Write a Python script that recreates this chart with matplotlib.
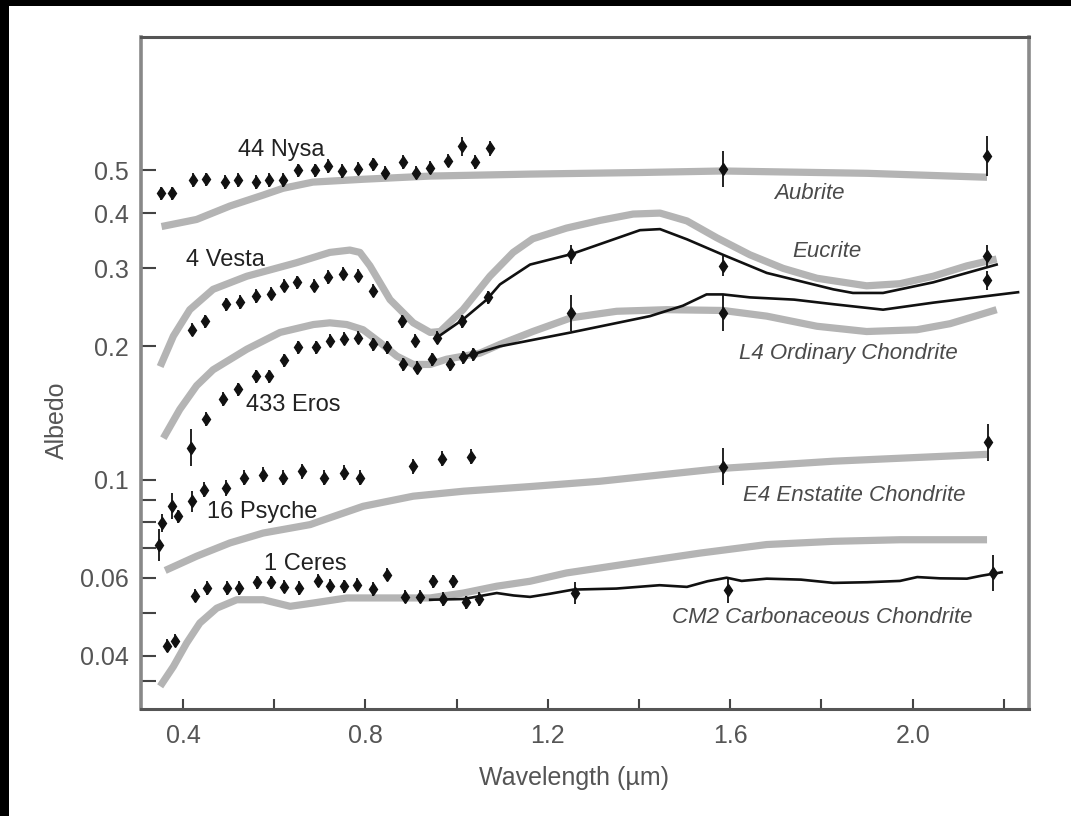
import numpy as np
import matplotlib
matplotlib.use('Agg')
import matplotlib.pyplot as plt
from matplotlib.ticker import FixedLocator, FixedFormatter, NullFormatter
from matplotlib.patches import Rectangle

plt.rcParams['font.family'] = ['Liberation Sans', 'DejaVu Sans']

# ---------------- asteroid data points (wavelength um, albedo, rel. error) ----------------
nysa_x = [0.351, 0.377, 0.423, 0.450, 0.492, 0.521, 0.560, 0.589, 0.620, 0.653, 0.689, 0.719,
          0.748, 0.783, 0.816, 0.843, 0.882, 0.911, 0.942, 0.982, 1.011, 1.040, 1.073, 1.584, 2.163]
nysa_y = [0.443, 0.443, 0.475, 0.477, 0.470, 0.475, 0.470, 0.475, 0.475, 0.500, 0.500, 0.511,
          0.498, 0.504, 0.516, 0.494, 0.522, 0.494, 0.507, 0.525, 0.566, 0.522, 0.560, 0.503, 0.538]
nysa_e = [0.035] * 20 + [0.05, 0.035, 0.04, 0.10, 0.11]

vesta_x = [0.419, 0.448, 0.494, 0.525, 0.560, 0.594, 0.621, 0.649, 0.688, 0.717, 0.750, 0.783,
           0.816, 0.880, 0.909, 0.956, 1.011, 1.068, 1.251, 1.584, 2.163, 2.163]
vesta_y = [0.218, 0.228, 0.249, 0.252, 0.260, 0.263, 0.274, 0.279, 0.274, 0.287, 0.292, 0.289,
           0.267, 0.228, 0.206, 0.209, 0.228, 0.258, 0.323, 0.304, 0.320, 0.282]
vesta_e = [0.035] * 18 + [0.05, 0.055, 0.06, 0.05]

eros_x = [0.418, 0.450, 0.488, 0.521, 0.560, 0.589, 0.621, 0.653, 0.692, 0.722, 0.754, 0.784,
          0.816, 0.847, 0.882, 0.914, 0.945, 0.986, 1.015, 1.037, 1.251, 1.584]
eros_y = [0.118, 0.137, 0.152, 0.160, 0.171, 0.171, 0.186, 0.199, 0.199, 0.206, 0.208, 0.209,
          0.202, 0.199, 0.182, 0.179, 0.187, 0.182, 0.189, 0.192, 0.238, 0.238]
eros_e = [0.10] + [0.035] * 19 + [0.10, 0.10]

psyche_x = [0.348, 0.355, 0.375, 0.390, 0.419, 0.446, 0.494, 0.534, 0.576, 0.620, 0.662, 0.710,
            0.753, 0.788, 0.904, 0.967, 1.031, 1.584, 2.166]
psyche_y = [0.0713, 0.0798, 0.0870, 0.0826, 0.0893, 0.0949, 0.0957, 0.1009, 0.1026, 0.1009,
            0.1044, 0.1009, 0.1035, 0.1009, 0.1072, 0.1114, 0.1125, 0.107, 0.1214]
psyche_e = [0.087, 0.05, 0.07, 0.035, 0.055] + [0.04] * 12 + [0.10, 0.10]

ceres_x = [0.364, 0.382, 0.426, 0.453, 0.496, 0.523, 0.562, 0.594, 0.621, 0.655, 0.697, 0.722,
           0.752, 0.781, 0.817, 0.847, 0.887, 0.920, 0.949, 0.971, 0.991, 1.021, 1.048,
           1.260, 1.594, 2.177]
ceres_y = [0.0421, 0.0432, 0.0546, 0.0569, 0.0569, 0.0569, 0.0586, 0.0586, 0.0572, 0.0569,
           0.0591, 0.0576, 0.0574, 0.0578, 0.0566, 0.0610, 0.0543, 0.0543, 0.0589, 0.0537,
           0.0589, 0.0528, 0.0537, 0.0554, 0.0564, 0.0615]
ceres_e = [0.035] * 23 + [0.06, 0.07, 0.10]

# ---------------- meteorite laboratory spectra (grey curves) ----------------
aubrite_x = [0.353, 0.430, 0.503, 0.575, 0.619, 0.685, 0.795, 0.942, 1.161, 1.40, 1.584, 1.90, 2.163]
aubrite_y = [0.373, 0.387, 0.415, 0.439, 0.455, 0.470, 0.477, 0.485, 0.490, 0.494, 0.498, 0.492, 0.482]

eucrite_x = [0.350, 0.379, 0.415, 0.466, 0.540, 0.649, 0.722, 0.766, 0.788, 0.810, 0.854, 0.905,
             0.942, 0.964, 1.014, 1.073, 1.124, 1.167, 1.241, 1.314, 1.387, 1.446, 1.505, 1.570,
             1.643, 1.716, 1.790, 1.899, 1.972, 2.045, 2.119, 2.184]
eucrite_y = [0.180, 0.211, 0.242, 0.269, 0.288, 0.309, 0.326, 0.330, 0.326, 0.304, 0.255, 0.226,
             0.215, 0.216, 0.242, 0.288, 0.326, 0.350, 0.370, 0.385, 0.398, 0.400, 0.384, 0.352,
             0.322, 0.300, 0.285, 0.274, 0.277, 0.288, 0.304, 0.315]

l4_x = [0.357, 0.393, 0.430, 0.466, 0.540, 0.613, 0.686, 0.722, 0.759, 0.795, 0.832, 0.869, 0.905,
        0.942, 0.978, 1.051, 1.095, 1.167, 1.251, 1.351, 1.461, 1.584, 1.680, 1.790, 1.899, 2.009,
        2.082, 2.184]
l4_y = [0.124, 0.144, 0.163, 0.177, 0.197, 0.215, 0.224, 0.226, 0.224, 0.218, 0.204, 0.190, 0.182,
        0.182, 0.187, 0.193, 0.202, 0.216, 0.232, 0.240, 0.242, 0.241, 0.234, 0.222, 0.216, 0.218,
        0.225, 0.242]

e4_x = [0.361, 0.430, 0.503, 0.576, 0.679, 0.700, 0.795, 0.905, 1.015, 1.161, 1.314, 1.584, 1.826, 2.163]
e4_y = [0.0623, 0.0671, 0.0719, 0.0757, 0.0791, 0.0805, 0.0870, 0.0917, 0.0941, 0.0964, 0.0991,
        0.106, 0.110, 0.114]

cm2_x = [0.350, 0.379, 0.408, 0.437, 0.474, 0.518, 0.576, 0.635, 0.686, 0.759, 0.869, 0.942,
         1.015, 1.088, 1.161, 1.241, 1.388, 1.534, 1.680, 1.826, 1.972, 2.163]
cm2_y = [0.0341, 0.0378, 0.0427, 0.0474, 0.0512, 0.0535, 0.0535, 0.0517, 0.0526, 0.0540, 0.0540,
         0.0540, 0.0554, 0.0574, 0.0589, 0.0615, 0.0648, 0.0682, 0.0713, 0.0725, 0.0731, 0.0731]

# ---------------- measured asteroid spectra (black lines) ----------------
vesta_line_x = [0.956, 1.014, 1.066, 1.095, 1.161, 1.251, 1.402, 1.446, 1.505, 1.584, 1.680,
                1.826, 1.869, 1.935, 2.045, 2.184]
vesta_line_y = [0.209, 0.230, 0.255, 0.276, 0.306, 0.323, 0.366, 0.368, 0.349, 0.322, 0.293,
                0.269, 0.264, 0.264, 0.279, 0.306]

eros_line_x = [1.014, 1.095, 1.251, 1.424, 1.496, 1.548, 1.584, 1.643, 1.740, 1.826, 1.935,
               2.045, 2.192, 2.231]
eros_line_y = [0.189, 0.200, 0.215, 0.234, 0.247, 0.262, 0.262, 0.258, 0.255, 0.249, 0.242,
               0.251, 0.262, 0.265]

ceres_line_x = [0.942, 1.015, 1.088, 1.125, 1.161, 1.205, 1.256, 1.350, 1.445, 1.505, 1.550,
                1.592, 1.625, 1.680, 1.755, 1.826, 1.900, 1.972, 2.010, 2.060, 2.119, 2.150, 2.195]
ceres_line_y = [0.0535, 0.0537, 0.0554, 0.0547, 0.0543, 0.0552, 0.0564, 0.0567, 0.0577, 0.0572,
                0.0589, 0.0600, 0.0590, 0.0597, 0.0594, 0.0584, 0.0586, 0.0590, 0.0602, 0.0598,
                0.0597, 0.0606, 0.0617]

# ---------------- labels ----------------
ast_labels = ['44 Nysa', '4 Vesta', '433 Eros', '16 Psyche', '1 Ceres']
ast_label_x = [0.615, 0.494, 0.641, 0.573, 0.668]
ast_label_y = [0.538, 0.303, 0.1425, 0.0820, 0.0626]

met_labels = ['Aubrite', 'Eucrite', 'L4 Ordinary Chondrite', 'E4 Enstatite Chondrite',
              'CM2 Carbonaceous Chondrite']
met_label_x = [1.773, 1.812, 1.858, 1.872, 1.801]
met_label_y = [0.430, 0.318, 0.187, 0.0893, 0.0475]

xticks_major = [0.4, 0.8, 1.2, 1.6, 2.0]
xticks_minor = [0.6, 1.0, 1.4, 1.8, 2.2]
yticks_major = [0.04, 0.06, 0.1, 0.2, 0.3, 0.4, 0.5]
ytick_labels = ['0.04', '0.06', '0.1', '0.2', '0.3', '0.4', '0.5']
yticks_minor = [0.035, 0.05, 0.07, 0.08, 0.09]

# ---------------- figure ----------------
fig = plt.figure(figsize=(10.71, 8.16), dpi=100)
fig.patch.set_facecolor('white')
fig.patches.append(Rectangle((0, 1 - 6 / 816), 1, 6 / 816, transform=fig.transFigure,
                             facecolor='black', edgecolor='none', zorder=10))
fig.patches.append(Rectangle((0, 0), 9 / 1071, 1, transform=fig.transFigure,
                             facecolor='black', edgecolor='none', zorder=10))

ax = fig.add_axes([141 / 1071, 1 - 709 / 816, 888 / 1071, 672 / 816])
ax.set_yscale('log')
ax.set_xlim(0.308, 2.255)
ax.set_ylim(0.0303, 1.0)

grey = '#b4b4b4'
for gx, gy in [(aubrite_x, aubrite_y), (eucrite_x, eucrite_y), (l4_x, l4_y),
               (e4_x, e4_y), (cm2_x, cm2_y)]:
    ax.plot(gx, gy, color=grey, lw=5.2, solid_capstyle='butt', zorder=1)

for bx, by in [(vesta_line_x, vesta_line_y), (eros_line_x, eros_line_y),
               (ceres_line_x, ceres_line_y)]:
    ax.plot(bx, by, color='#111111', lw=1.9, zorder=2)

for px, py, pe in [(nysa_x, nysa_y, nysa_e), (vesta_x, vesta_y, vesta_e),
                   (eros_x, eros_y, eros_e), (psyche_x, psyche_y, psyche_e),
                   (ceres_x, ceres_y, ceres_e)]:
    px = np.array(px); py = np.array(py); pe = np.array(pe)
    lo = py - py / (1 + pe)
    hi = py * pe
    ax.errorbar(px, py, yerr=[lo, hi], fmt='d', ms=6.5, color='#111111', mec='#111111',
                elinewidth=1.3, capsize=0, zorder=3)

for t, x, y in zip(ast_labels, ast_label_x, ast_label_y):
    ax.text(x, y, t, ha='center', va='baseline', fontsize=17, color='#222222', zorder=4)
for t, x, y in zip(met_labels, met_label_x, met_label_y):
    ax.text(x, y, t, ha='center', va='baseline', fontsize=16, style='italic',
            color='#4a4a4a', zorder=4)

ax.xaxis.set_major_locator(FixedLocator(xticks_major))
ax.xaxis.set_major_formatter(FixedFormatter([f'{v:.1f}' for v in xticks_major]))
ax.xaxis.set_minor_locator(FixedLocator(xticks_minor))
ax.xaxis.set_minor_formatter(NullFormatter())
ax.yaxis.set_major_locator(FixedLocator(yticks_major))
ax.yaxis.set_major_formatter(FixedFormatter(ytick_labels))
ax.yaxis.set_minor_locator(FixedLocator(yticks_minor))
ax.yaxis.set_minor_formatter(NullFormatter())

ax.tick_params(axis='both', which='both', direction='in', colors='#444444',
               labelcolor='#555555', labelsize=18, width=1.5)
ax.tick_params(axis='y', which='both', length=11, pad=9, right=False)
ax.tick_params(axis='x', which='both', length=7, pad=11, top=False)

ax.spines['left'].set_color('#888888')
ax.spines['left'].set_linewidth(2.6)
ax.spines['right'].set_color('#8a8a8a')
ax.spines['right'].set_linewidth(2.6)
ax.spines['top'].set_color('#555555')
ax.spines['top'].set_linewidth(2.2)
ax.spines['bottom'].set_color('#555555')
ax.spines['bottom'].set_linewidth(2.2)

fig.text(57 / 1071, 1 - 420 / 816, 'Albedo', rotation=90, ha='center', va='center',
         fontsize=18, color='#555555')
fig.text(574 / 1071, 1 - 778 / 816, 'Wavelength (µm)', ha='center', va='center',
         fontsize=18, color='#555555')

fig.savefig('out.png', dpi=100, facecolor='white')
